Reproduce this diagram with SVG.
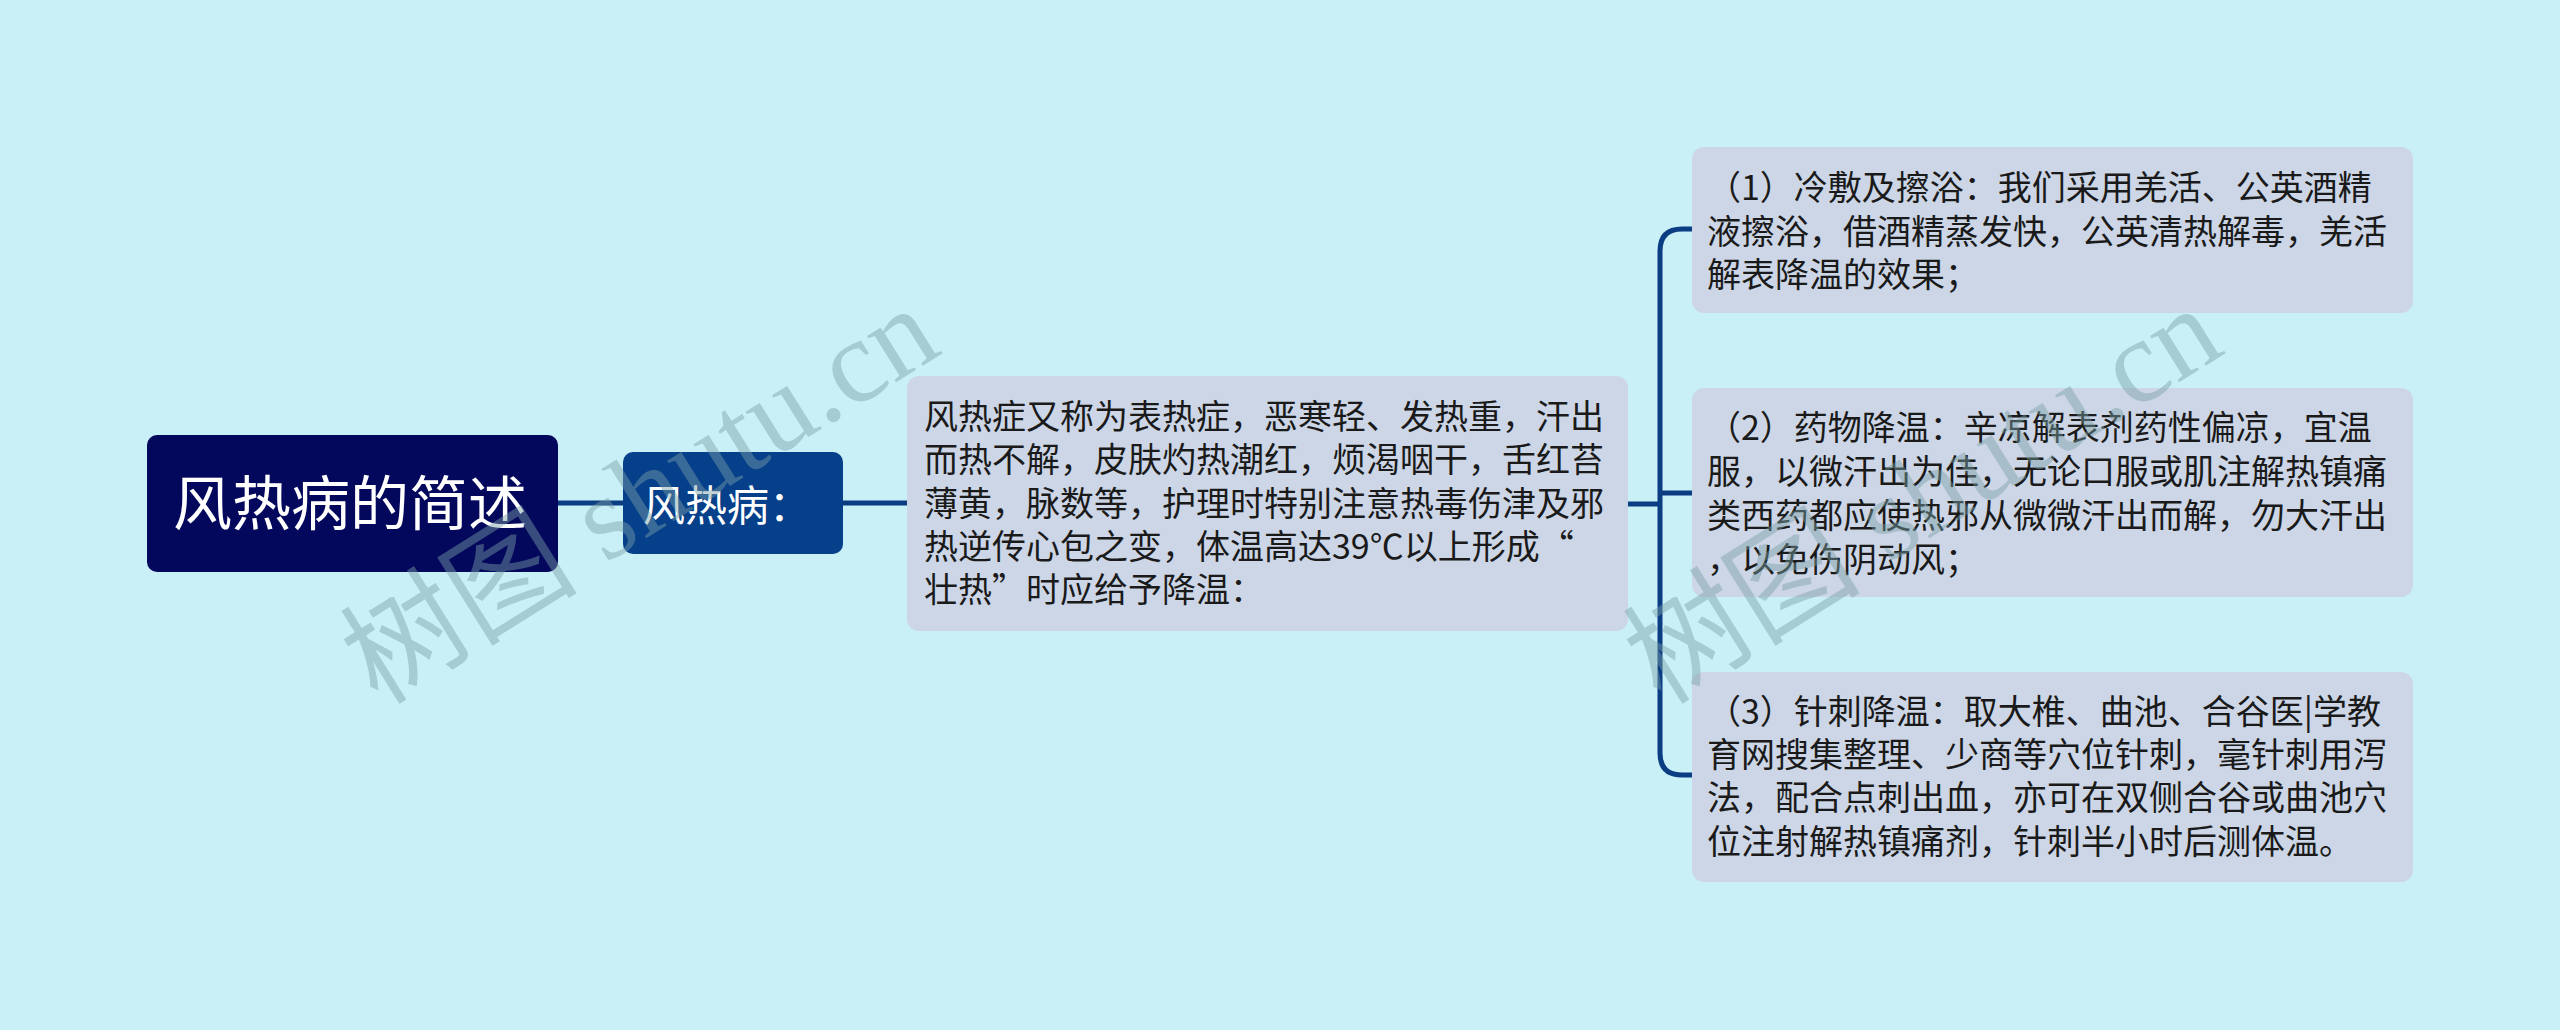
<svg xmlns="http://www.w3.org/2000/svg" width="2560" height="1030" viewBox="0 0 2560 1030">
<style>
.bg{fill:#c9eff7}
.t{font-family:"Noto Sans CJK SC","Liberation Sans",sans-serif}
.leaf{fill:#ccd6e6}
.body{font-size:34px;fill:#1a1a1a}
.conn{fill:none;stroke:#0b3d82;stroke-width:5}
.wm{font-family:"Liberation Serif","Noto Sans CJK SC",serif;font-size:119px;fill:#7a9fa6;fill-opacity:0.45}
</style>
<rect class="bg" x="0" y="0" width="2560" height="1030"/>
<g id="connectors">
<path class="conn" d="M558,503 H623"/>
<path class="conn" d="M843,503 H907"/>
<path class="conn" d="M1628,504 H1660"/>
<path class="conn" d="M1692,229 H1682 Q1660,229 1660,251 V753 Q1660,775 1682,775 H1692"/>
<path class="conn" d="M1660,493 H1692"/>
</g>
<g id="root">
<rect x="147" y="435" width="411" height="137" rx="10" fill="#03085c"/>
<text class="t" x="173" y="525" font-size="59" fill="#ffffff">风热病的简述</text>
</g>
<g id="n1">
<rect x="623" y="452" width="220" height="102" rx="10" fill="#063f8a"/>
<text class="t" x="643" y="521" font-size="42" fill="#ffffff">风热病：</text>
</g>
<g id="n2">
<rect class="leaf" x="907" y="376" width="721" height="255" rx="12"/>
<text class="t body" x="924">
<tspan x="924" y="429">风热症又称为表热症，恶寒轻、发热重，汗出</tspan>
<tspan x="924" y="472">而热不解，皮肤灼热潮红，烦渴咽干，舌红苔</tspan>
<tspan x="924" y="516">薄黄，脉数等，护理时特别注意热毒伤津及邪</tspan>
<tspan x="924" y="559">热逆传心包之变，体温高达39℃以上形成“</tspan>
<tspan x="924" y="602">壮热”时应给予降温：</tspan>
</text>
</g>
<g id="n3">
<rect class="leaf" x="1692" y="147" width="721" height="166" rx="12"/>
<text class="t body">
<tspan x="1707" y="200">（1）冷敷及擦浴：我们采用羌活、公英酒精</tspan>
<tspan x="1707" y="244">液擦浴，借酒精蒸发快，公英清热解毒，羌活</tspan>
<tspan x="1707" y="287">解表降温的效果；</tspan>
</text>
</g>
<g id="n4">
<rect class="leaf" x="1692" y="388" width="721" height="209" rx="12"/>
<text class="t body">
<tspan x="1707" y="440">（2）药物降温：辛凉解表剂药性偏凉，宜温</tspan>
<tspan x="1707" y="484">服，以微汗出为佳，无论口服或肌注解热镇痛</tspan>
<tspan x="1707" y="528">类西药都应使热邪从微微汗出而解，勿大汗出</tspan>
<tspan x="1707" y="572">，以免伤阴动风；</tspan>
</text>
</g>
<g id="n5">
<rect class="leaf" x="1692" y="672" width="721" height="210" rx="12"/>
<text class="t body">
<tspan x="1707" y="724">（3）针刺降温：取大椎、曲池、合谷医|学教</tspan>
<tspan x="1707" y="767">育网搜集整理、少商等穴位针刺，毫针刺用泻</tspan>
<tspan x="1707" y="810">法，配合点刺出血，亦可在双侧合谷或曲池穴</tspan>
<tspan x="1707" y="854">位注射解热镇痛剂，针刺半小时后测体温。</tspan>
</text>
</g>
<g id="watermark">
<text class="wm" transform="translate(378,706) rotate(-32)">树图 shutu.cn</text>
<text class="wm" transform="translate(1661,706) rotate(-32)">树图 shutu.cn</text>
</g>
</svg>
